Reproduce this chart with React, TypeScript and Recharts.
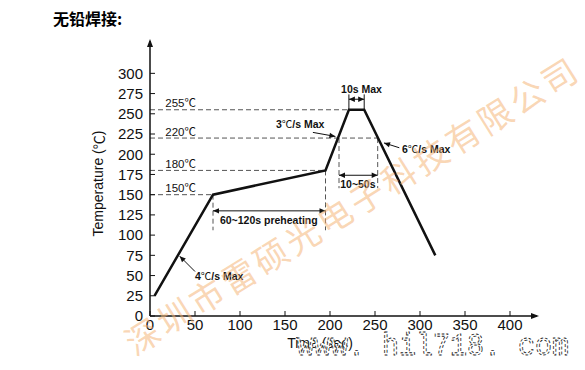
import React from "react";
import { LineChart, Line, XAxis, YAxis, ReferenceLine, ReferenceDot } from "recharts";

// 无铅焊接 回流温度曲线 (time s / temperature ℃)
const profileTime = [5, 70, 195, 221, 238, 317];
const profileTemp = [25, 150, 180, 255, 255, 75];

const xTicks = [0, 50, 100, 150, 200, 250, 300, 350, 400];
const yTicks = [0, 25, 50, 75, 100, 125, 150, 175, 200, 225, 250, 275, 300];

// horizontal dashed levels
const levelTemps = [150, 180, 220, 255];
const levelEnds = [70, 195, 253, 221];
const levelLabels = ["150℃", "180℃", "220℃", "255℃"];

// vertical dashed guides
const guideTimes = [70, 195, 210, 253];
const guideTop = [150, 180, 220, 220];
const guideBottom = [106, 106, 158, 158];

// double-arrow spans
const spanLabels = ["60~120s preheating", "10~50s", "10s Max"];
const spanFrom = [70, 210, 221];
const spanTo = [195, 253, 238];
const spanTemp = [130, 174, 268];
const spanLabelX = [132, 231, 235];
const spanLabelY = [114, 158, 276];

// slope notes
const slopeLabels = ["4℃/s Max", "3℃/s Max", "6℃/s Max"];
const slopeTextX = [50, 140, 280];
const slopeTextY = [44, 232, 201];
const slopeTail = [[50, 55], [181, 227], [277, 208]];
const slopeTip = [[33, 74], [206, 222], [260, 214]];

const data = profileTime.map((t, i) => ({ time: t, temp: profileTemp[i] }));

const FONT = "'Liberation Sans', Arial, sans-serif";
const CJK = "'Noto Sans CJK SC', sans-serif";
const INK = "#111";

// ℃ drawn with the CJK font so it looks like the original glyph
function withDeg(s: string) {
  const parts = s.split("℃");
  return parts.map((p, i) => (
    <React.Fragment key={i}>
      {p}
      {i < parts.length - 1 && <tspan fontFamily={CJK} fontWeight="normal">℃</tspan>}
    </React.Fragment>
  ));
}

function head(x: number, y: number, fx: number, fy: number, size = 6) {
  const a = Math.atan2(y - fy, x - fx);
  const bx = x - size * Math.cos(a);
  const by = y - size * Math.sin(a);
  const w = size * 0.45;
  const p1 = `${bx + w * Math.sin(a)},${by - w * Math.cos(a)}`;
  const p2 = `${bx - w * Math.sin(a)},${by + w * Math.cos(a)}`;
  return <polygon points={`${x},${y} ${p1} ${p2}`} fill={INK} />;
}

const doubleArrow = (p: any) => (
  <g>
    <line x1={p.x1} y1={p.y1} x2={p.x2} y2={p.y2} stroke={INK} strokeWidth={1} />
    {head(p.x1, p.y1, p.x2, p.y2)}
    {head(p.x2, p.y2, p.x1, p.y1)}
  </g>
);

const singleArrow = (p: any) => (
  <g>
    <line x1={p.x1} y1={p.y1} x2={p.x2} y2={p.y2} stroke={INK} strokeWidth={1} />
    {head(p.x2, p.y2, p.x1, p.y1)}
  </g>
);

const textShape = (label: string, anchor: "start" | "middle", size: number, bold: boolean) => (p: any) => (
  <text x={p.cx} y={p.cy} textAnchor={anchor} fontSize={size} fontWeight={bold ? "bold" : "normal"} fontFamily={FONT} fill={INK}>
    {withDeg(label)}
  </text>
);

export default function App() {
  return (
    <div style={{ position: "absolute", left: 0, top: 0, width: 585, height: 370, background: "#fff", overflow: "hidden" }}>
      <div
        style={{
          position: "absolute",
          left: 53,
          top: 6,
          fontFamily: CJK,
          fontWeight: "bold",
          fontSize: 16,
          color: "#000",
        }}
      >
        无铅焊接:
      </div>
      <LineChart width={585} height={370} data={data} margin={{ top: 41, right: 48, left: 110, bottom: 24 }}>
        <XAxis
          dataKey="time"
          type="number"
          domain={[0, 430]}
          ticks={xTicks}
          interval={0}
          height={30}
          tickSize={-5}
          tickMargin={8}
          axisLine={{ stroke: INK, strokeWidth: 1.5 }}
          tickLine={{ stroke: INK }}
          tick={{ fill: INK, fontSize: 15, fontFamily: FONT }}
        />
        <YAxis
          type="number"
          domain={[0, 340]}
          ticks={yTicks}
          interval={0}
          width={40}
          tickSize={-5}
          tickMargin={12}
          axisLine={{ stroke: INK, strokeWidth: 1.5 }}
          tickLine={{ stroke: INK }}
          tick={{ fill: INK, fontSize: 15, fontFamily: FONT }}
          label={{
            content: (p: any) => {
              const vb = p.viewBox;
              const cx = vb.x - 12;
              const cy = vb.y + vb.height / 2 + 5;
              return (
                <text x={cx} y={cy} transform={`rotate(-90 ${cx} ${cy})`} textAnchor="middle" dominantBaseline="central" fontSize={14} fontFamily={FONT} fill={INK}>
                  {withDeg("Temperature (℃)")}
                </text>
              );
            },
          }}
        />

        {levelTemps.map((t, i) => (
          <ReferenceLine
            key={"lv" + i}
            segment={[{ x: 0, y: t }, { x: levelEnds[i], y: t }]}
            stroke="#555"
            strokeDasharray="5 3"
            strokeWidth={1}
          />
        ))}
        {levelTemps.map((t, i) => (
          <ReferenceDot key={"lvl" + i} x={17} y={t + 3} ifOverflow="visible" shape={textShape(levelLabels[i], "start", 11.5, false)} />
        ))}

        {guideTimes.map((t, i) => (
          <ReferenceLine
            key={"gd" + i}
            segment={[{ x: t, y: guideTop[i] }, { x: t, y: guideBottom[i] }]}
            stroke="#555"
            strokeDasharray="5 3"
            strokeWidth={1}
          />
        ))}

        {/* 10s Max small bars */}
        {[221, 238].map((t, i) => (
          <ReferenceLine key={"bar" + i} segment={[{ x: t, y: 255 }, { x: t, y: 274 }]} stroke={INK} strokeWidth={1} />
        ))}

        {spanLabels.map((s, i) => (
          <ReferenceLine
            key={"sp" + i}
            segment={[{ x: spanFrom[i], y: spanTemp[i] }, { x: spanTo[i], y: spanTemp[i] }]}
            shape={doubleArrow}
          />
        ))}
        {spanLabels.map((s, i) => (
          <ReferenceDot key={"spl" + i} x={spanLabelX[i]} y={spanLabelY[i]} ifOverflow="visible" shape={textShape(s, "middle", 10.5, true)} />
        ))}

        {slopeLabels.map((s, i) => (
          <ReferenceLine
            key={"sl" + i}
            segment={[{ x: slopeTail[i][0], y: slopeTail[i][1] }, { x: slopeTip[i][0], y: slopeTip[i][1] }]}
            shape={singleArrow}
          />
        ))}
        {slopeLabels.map((s, i) => (
          <ReferenceDot key={"sll" + i} x={slopeTextX[i]} y={slopeTextY[i]} ifOverflow="visible" shape={textShape(s, "start", 10.5, true)} />
        ))}

        {/* axis arrow heads */}
        <ReferenceDot
          x={0}
          y={340}
          ifOverflow="visible"
          shape={(p: any) => <polygon points={`${p.cx},${p.cy - 2} ${p.cx - 3},${p.cy + 6} ${p.cx + 3},${p.cy + 6}`} fill={INK} />}
        />
        <ReferenceDot
          x={430}
          y={0}
          ifOverflow="visible"
          shape={(p: any) => <polygon points={`${p.cx + 2},${p.cy} ${p.cx - 6},${p.cy - 3} ${p.cx - 6},${p.cy + 3}`} fill={INK} />}
        />

        <Line
          dataKey="temp"
          type="linear"
          stroke={INK}
          strokeWidth={2.5}
          dot={false}
          activeDot={false}
          isAnimationActive={false}
        />
      </LineChart>

      <svg width={585} height={370} style={{ position: "absolute", left: 0, top: 0, pointerEvents: "none" }}>
        <text x={320} y={348} textAnchor="middle" fontSize={14} fontFamily={FONT} fill={INK}>
          Time (sec)
        </text>
        <text
          x={350}
          y={205}
          transform="rotate(-32 350 205)"
          textAnchor="middle"
          dominantBaseline="central"
          fontSize={34}
          fontFamily={CJK}
          fill="#f5b477"
          fillOpacity={0.55}
          textLength={525}
          lengthAdjust="spacing"
        >
          深圳市雷硕光电子科技有限公司
        </text>
        <text
          x={297}
          y={355}
          fontSize={32}
          fontFamily="'Liberation Mono', monospace"
          fill="#fff"
          stroke="#222"
          strokeWidth={0.9}
          strokeDasharray="3 2"
          textLength={272}
          lengthAdjust="spacingAndGlyphs"
        >
          www. hil718. com
        </text>
      </svg>
    </div>
  );
}
